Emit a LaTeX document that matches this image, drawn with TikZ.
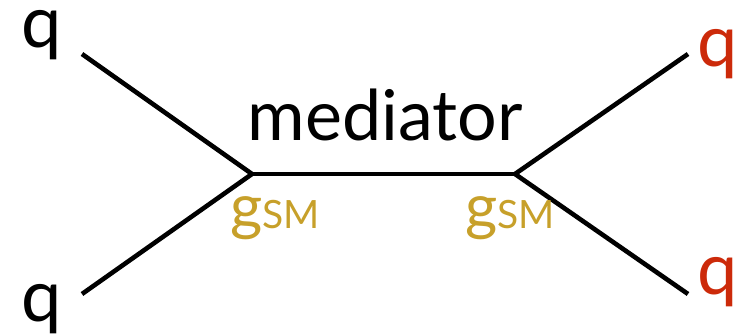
\documentclass[tikz,border=0pt]{standalone}
\usepackage{fontspec}
\setmainfont{Lato}
\definecolor{qred}{HTML}{CC2A0A}
\definecolor{cgold}{HTML}{C7A02A}
\begin{document}
\begin{tikzpicture}[x=1pt,y=-1pt,
  leg/.style={line width=4.6pt},
  lbl/.style={inner sep=0pt,anchor=base west},
  big/.style={font=\fontsize{72}{72}\selectfont},
  coup/.style={inner sep=0pt,anchor=base west,text=cgold}]
\useasboundingbox (0,0) rectangle (742,333);
\coordinate (v1) at (252,174);
\coordinate (v2) at (515,174);
\coordinate (a) at (82,54);
\coordinate (b) at (82,294);
\coordinate (c) at (688,54);
\coordinate (d) at (688,294);
\draw[leg] (a) -- (v1) -- (b);
\draw[leg] (v1) -- (v2);
\draw[leg] (c) -- (v2) -- (d);
\node[lbl,big] (q1) at (21,47) {q};
\node[lbl,big] (q2) at (21,321) {q};
\node[lbl,big,text=qred] (q3) at (697,66) {q};
\node[lbl,big,text=qred] (q4) at (697,294) {q};
\node[inner sep=0pt,anchor=base,font=\fontsize{70}{70}\selectfont] (m) at (385,140) {mediator};
\node[coup] (g1) at (230,228) {\fontsize{62}{62}\selectfont g\fontsize{39}{39}\selectfont SM};
\node[coup] (g2) at (465,228) {\fontsize{62}{62}\selectfont g\fontsize{39}{39}\selectfont SM};
\end{tikzpicture}
\end{document}
